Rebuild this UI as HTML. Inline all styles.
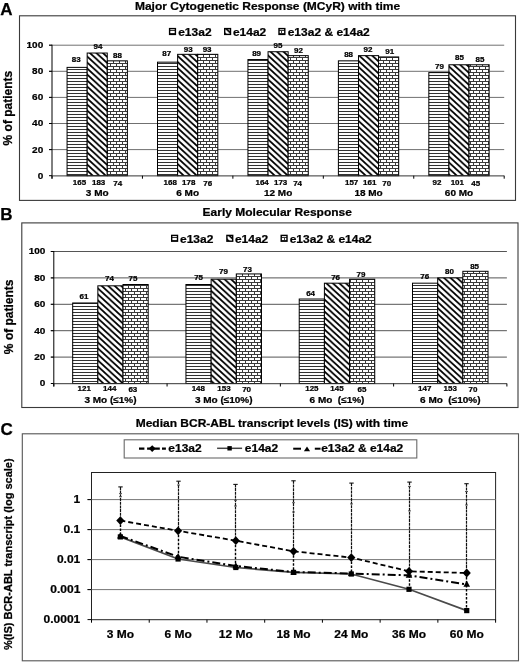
<!DOCTYPE html>
<html><head><meta charset="utf-8"><style>
html,body{margin:0;padding:0;background:#fff;width:520px;height:663px;overflow:hidden}
svg{display:block;filter:grayscale(1)}
text{font-family:"Liberation Sans",sans-serif;font-weight:bold;stroke:#000;stroke-width:0.25px}
</style></head><body>
<svg width="520" height="663" viewBox="0 0 520 663" font-family="Liberation Sans" font-weight="bold" fill="#000">
<defs>
<pattern id="ph" patternUnits="userSpaceOnUse" width="6" height="3">
  <rect width="6" height="3" fill="#fff"/><rect y="0" width="6" height="1" fill="#333"/>
</pattern>
<pattern id="pd" patternUnits="userSpaceOnUse" width="6.5" height="6">
  <rect width="6.5" height="6" fill="#fff"/>
  <path d="M-1.625,-1.5 L8.125,7.5 M-8.125,-1.5 L1.625,7.5 M4.875,-1.5 L14.625,7.5" stroke="#000" stroke-width="1.7"/>
</pattern>
<pattern id="pb" patternUnits="userSpaceOnUse" width="6" height="6">
  <rect width="6" height="6" fill="#3a3a3a"/>
  <rect x="0" y="1" width="5" height="2" fill="#fff"/>
  <rect x="-3" y="4" width="5" height="2" fill="#fff"/>
  <rect x="3" y="4" width="5" height="2" fill="#fff"/>
</pattern>
</defs>
<rect width="520" height="663" fill="#fff"/>
<text transform="translate(0.30,14.60) scale(1,1)" font-size="17" text-anchor="start" >A</text>
<text transform="translate(134.90,9.90) scale(1,0.91)" font-size="12" text-anchor="start" >Major Cytogenetic Response (MCyR) with time</text>
<rect x="19.5" y="15.8" width="496" height="184.6" fill="none" stroke="#3a3a3a" stroke-width="1.1"/>
<rect x="169.6" y="28.6" width="5.8" height="5.8" fill="url(#ph)" stroke="#000" stroke-width="1.4"/>
<text transform="translate(178.20,35.90) scale(1,0.91)" font-size="12" text-anchor="start" >e13a2</text>
<rect x="224.7" y="28.6" width="5.8" height="5.8" fill="url(#pd)" stroke="#000" stroke-width="1.4"/>
<text transform="translate(232.90,35.90) scale(1,0.91)" font-size="12" text-anchor="start" >e14a2</text>
<rect x="279.0" y="28.6" width="5.8" height="5.8" fill="url(#pb)" stroke="#000" stroke-width="1.4"/>
<text transform="translate(287.70,35.90) scale(1,0.91)" font-size="12" text-anchor="start" >e13a2 &amp; e14a2</text>
<line x1="49.0" y1="149.60" x2="504.2" y2="149.60" stroke="#707070" stroke-width="1"/>
<line x1="49.0" y1="123.50" x2="504.2" y2="123.50" stroke="#707070" stroke-width="1"/>
<line x1="49.0" y1="97.40" x2="504.2" y2="97.40" stroke="#707070" stroke-width="1"/>
<line x1="49.0" y1="71.30" x2="504.2" y2="71.30" stroke="#707070" stroke-width="1"/>
<line x1="49.0" y1="45.20" x2="504.2" y2="45.20" stroke="#707070" stroke-width="1"/>
<line x1="49.0" y1="175.70" x2="52.0" y2="175.70" stroke="#000" stroke-width="1"/>
<text transform="translate(43.20,178.65) scale(1,0.91)" font-size="10" text-anchor="end" >0</text>
<line x1="49.0" y1="149.60" x2="52.0" y2="149.60" stroke="#000" stroke-width="1"/>
<text transform="translate(43.20,152.55) scale(1,0.91)" font-size="10" text-anchor="end" >20</text>
<line x1="49.0" y1="123.50" x2="52.0" y2="123.50" stroke="#000" stroke-width="1"/>
<text transform="translate(43.20,126.45) scale(1,0.91)" font-size="10" text-anchor="end" >40</text>
<line x1="49.0" y1="97.40" x2="52.0" y2="97.40" stroke="#000" stroke-width="1"/>
<text transform="translate(43.20,100.35) scale(1,0.91)" font-size="10" text-anchor="end" >60</text>
<line x1="49.0" y1="71.30" x2="52.0" y2="71.30" stroke="#000" stroke-width="1"/>
<text transform="translate(43.20,74.25) scale(1,0.91)" font-size="10" text-anchor="end" >80</text>
<line x1="49.0" y1="45.20" x2="52.0" y2="45.20" stroke="#000" stroke-width="1"/>
<text transform="translate(43.20,48.15) scale(1,0.91)" font-size="10" text-anchor="end" >100</text>
<rect x="67.07" y="67.38" width="20.10" height="108.31" fill="url(#ph)" stroke="#000" stroke-width="1"/>
<text transform="translate(76.20,62.00) scale(1,0.91)" font-size="8" text-anchor="middle" >83</text>
<text transform="translate(79.52,184.60) scale(1,0.91)" font-size="8" text-anchor="middle" >165</text>
<rect x="87.17" y="53.03" width="20.10" height="122.67" fill="url(#pd)" stroke="#000" stroke-width="1"/>
<text transform="translate(98.00,48.70) scale(1,0.91)" font-size="8" text-anchor="middle" >94</text>
<text transform="translate(98.62,184.60) scale(1,0.91)" font-size="8" text-anchor="middle" >183</text>
<rect x="107.27" y="60.86" width="20.10" height="114.84" fill="url(#pb)" stroke="#000" stroke-width="1"/>
<text transform="translate(117.50,58.30) scale(1,0.91)" font-size="8" text-anchor="middle" >88</text>
<text transform="translate(117.62,185.60) scale(1,0.91)" font-size="8" text-anchor="middle" >74</text>
<text transform="translate(97.22,195.60) scale(1,0.91)" font-size="10" text-anchor="middle" >3 Mo</text>
<rect x="157.51" y="62.16" width="20.10" height="113.53" fill="url(#ph)" stroke="#000" stroke-width="1"/>
<text transform="translate(166.70,56.40) scale(1,0.91)" font-size="8" text-anchor="middle" >87</text>
<text transform="translate(170.16,184.60) scale(1,0.91)" font-size="8" text-anchor="middle" >168</text>
<rect x="177.61" y="54.33" width="20.10" height="121.36" fill="url(#pd)" stroke="#000" stroke-width="1"/>
<text transform="translate(188.30,51.60) scale(1,0.91)" font-size="8" text-anchor="middle" >93</text>
<text transform="translate(188.66,184.60) scale(1,0.91)" font-size="8" text-anchor="middle" >178</text>
<rect x="197.71" y="54.33" width="20.10" height="121.36" fill="url(#pb)" stroke="#000" stroke-width="1"/>
<text transform="translate(207.10,51.60) scale(1,0.91)" font-size="8" text-anchor="middle" >93</text>
<text transform="translate(207.76,185.60) scale(1,0.91)" font-size="8" text-anchor="middle" >76</text>
<text transform="translate(187.66,195.60) scale(1,0.91)" font-size="10" text-anchor="middle" >6 Mo</text>
<rect x="247.95" y="59.55" width="20.10" height="116.14" fill="url(#ph)" stroke="#000" stroke-width="1"/>
<text transform="translate(256.60,56.40) scale(1,0.91)" font-size="8" text-anchor="middle" >89</text>
<text transform="translate(262.10,184.60) scale(1,0.91)" font-size="8" text-anchor="middle" >164</text>
<rect x="268.05" y="51.72" width="20.10" height="123.97" fill="url(#pd)" stroke="#000" stroke-width="1"/>
<text transform="translate(278.00,48.30) scale(1,0.91)" font-size="8" text-anchor="middle" >95</text>
<text transform="translate(280.60,184.60) scale(1,0.91)" font-size="8" text-anchor="middle" >173</text>
<rect x="288.15" y="55.64" width="20.10" height="120.06" fill="url(#pb)" stroke="#000" stroke-width="1"/>
<text transform="translate(298.50,53.00) scale(1,0.91)" font-size="8" text-anchor="middle" >92</text>
<text transform="translate(297.60,185.60) scale(1,0.91)" font-size="8" text-anchor="middle" >74</text>
<text transform="translate(278.10,195.60) scale(1,0.91)" font-size="10" text-anchor="middle" >12 Mo</text>
<rect x="338.39" y="60.86" width="20.10" height="114.84" fill="url(#ph)" stroke="#000" stroke-width="1"/>
<text transform="translate(348.60,57.30) scale(1,0.91)" font-size="8" text-anchor="middle" >88</text>
<text transform="translate(351.64,184.60) scale(1,0.91)" font-size="8" text-anchor="middle" >157</text>
<rect x="358.49" y="55.64" width="20.10" height="120.06" fill="url(#pd)" stroke="#000" stroke-width="1"/>
<text transform="translate(368.00,51.60) scale(1,0.91)" font-size="8" text-anchor="middle" >92</text>
<text transform="translate(369.74,184.60) scale(1,0.91)" font-size="8" text-anchor="middle" >161</text>
<rect x="378.59" y="56.94" width="20.10" height="118.75" fill="url(#pb)" stroke="#000" stroke-width="1"/>
<text transform="translate(389.70,53.50) scale(1,0.91)" font-size="8" text-anchor="middle" >91</text>
<text transform="translate(386.64,185.60) scale(1,0.91)" font-size="8" text-anchor="middle" >70</text>
<text transform="translate(368.54,195.60) scale(1,0.91)" font-size="10" text-anchor="middle" >18 Mo</text>
<rect x="428.83" y="72.60" width="20.10" height="103.09" fill="url(#ph)" stroke="#000" stroke-width="1"/>
<text transform="translate(439.40,68.55) scale(1,0.91)" font-size="8" text-anchor="middle" >79</text>
<text transform="translate(436.98,184.60) scale(1,0.91)" font-size="8" text-anchor="middle" >92</text>
<rect x="448.93" y="64.77" width="20.10" height="110.92" fill="url(#pd)" stroke="#000" stroke-width="1"/>
<text transform="translate(459.40,60.30) scale(1,0.91)" font-size="8" text-anchor="middle" >85</text>
<text transform="translate(457.28,184.60) scale(1,0.91)" font-size="8" text-anchor="middle" >101</text>
<rect x="469.03" y="64.77" width="20.10" height="110.92" fill="url(#pb)" stroke="#000" stroke-width="1"/>
<text transform="translate(479.90,62.30) scale(1,0.91)" font-size="8" text-anchor="middle" >85</text>
<text transform="translate(475.78,185.60) scale(1,0.91)" font-size="8" text-anchor="middle" >45</text>
<text transform="translate(458.98,195.60) scale(1,0.91)" font-size="10" text-anchor="middle" >60 Mo</text>
<line x1="52.0" y1="44.70" x2="52.0" y2="178.70" stroke="#000" stroke-width="1"/>
<line x1="52.0" y1="175.90" x2="504.2" y2="175.90" stroke="#333" stroke-width="1"/>
<line x1="52.00" y1="175.70" x2="52.00" y2="178.70" stroke="#000" stroke-width="1"/>
<line x1="142.44" y1="175.70" x2="142.44" y2="178.70" stroke="#000" stroke-width="1"/>
<line x1="232.88" y1="175.70" x2="232.88" y2="178.70" stroke="#000" stroke-width="1"/>
<line x1="323.32" y1="175.70" x2="323.32" y2="178.70" stroke="#000" stroke-width="1"/>
<line x1="413.76" y1="175.70" x2="413.76" y2="178.70" stroke="#000" stroke-width="1"/>
<line x1="504.20" y1="175.70" x2="504.20" y2="178.70" stroke="#000" stroke-width="1"/>
<text transform="translate(11.8,108.1) rotate(-90)" font-size="12" text-anchor="middle">% of patients</text>
<text transform="translate(0.30,219.70) scale(1,1)" font-size="17" text-anchor="start" >B</text>
<text transform="translate(202.60,215.70) scale(1,0.91)" font-size="12" text-anchor="start" >Early Molecular Response</text>
<rect x="21.8" y="222.9" width="496.2" height="184.6" fill="none" stroke="#3a3a3a" stroke-width="1.1"/>
<rect x="171.7" y="235.4" width="5.8" height="5.8" fill="url(#ph)" stroke="#000" stroke-width="1.4"/>
<text transform="translate(180.00,242.60) scale(1,0.91)" font-size="12" text-anchor="start" >e13a2</text>
<rect x="226.9" y="235.4" width="5.8" height="5.8" fill="url(#pd)" stroke="#000" stroke-width="1.4"/>
<text transform="translate(234.90,242.60) scale(1,0.91)" font-size="12" text-anchor="start" >e14a2</text>
<rect x="281.2" y="235.4" width="5.8" height="5.8" fill="url(#pb)" stroke="#000" stroke-width="1.4"/>
<text transform="translate(289.70,242.60) scale(1,0.91)" font-size="12" text-anchor="start" >e13a2 &amp; e14a2</text>
<line x1="50.8" y1="357.10" x2="506.9" y2="357.10" stroke="#555" stroke-width="1"/>
<line x1="50.8" y1="330.70" x2="506.9" y2="330.70" stroke="#555" stroke-width="1"/>
<line x1="50.8" y1="304.30" x2="506.9" y2="304.30" stroke="#555" stroke-width="1"/>
<line x1="50.8" y1="277.90" x2="506.9" y2="277.90" stroke="#555" stroke-width="1"/>
<line x1="50.8" y1="251.50" x2="506.9" y2="251.50" stroke="#555" stroke-width="1"/>
<line x1="50.8" y1="383.50" x2="53.8" y2="383.50" stroke="#000" stroke-width="1"/>
<text transform="translate(45.30,386.45) scale(1,0.91)" font-size="10" text-anchor="end" >0</text>
<line x1="50.8" y1="357.10" x2="53.8" y2="357.10" stroke="#000" stroke-width="1"/>
<text transform="translate(45.30,360.05) scale(1,0.91)" font-size="10" text-anchor="end" >20</text>
<line x1="50.8" y1="330.70" x2="53.8" y2="330.70" stroke="#000" stroke-width="1"/>
<text transform="translate(45.30,333.65) scale(1,0.91)" font-size="10" text-anchor="end" >40</text>
<line x1="50.8" y1="304.30" x2="53.8" y2="304.30" stroke="#000" stroke-width="1"/>
<text transform="translate(45.30,307.25) scale(1,0.91)" font-size="10" text-anchor="end" >60</text>
<line x1="50.8" y1="277.90" x2="53.8" y2="277.90" stroke="#000" stroke-width="1"/>
<text transform="translate(45.30,280.85) scale(1,0.91)" font-size="10" text-anchor="end" >80</text>
<line x1="50.8" y1="251.50" x2="53.8" y2="251.50" stroke="#000" stroke-width="1"/>
<text transform="translate(45.30,254.45) scale(1,0.91)" font-size="10" text-anchor="end" >100</text>
<rect x="72.68" y="302.98" width="25.17" height="80.52" fill="url(#ph)" stroke="#000" stroke-width="1"/>
<text transform="translate(84.00,299.20) scale(1,0.91)" font-size="8" text-anchor="middle" >61</text>
<text transform="translate(84.24,390.60) scale(1,0.91)" font-size="8" text-anchor="middle" >121</text>
<rect x="97.85" y="285.82" width="25.17" height="97.68" fill="url(#pd)" stroke="#000" stroke-width="1"/>
<text transform="translate(109.50,280.90) scale(1,0.91)" font-size="8" text-anchor="middle" >74</text>
<text transform="translate(109.74,390.60) scale(1,0.91)" font-size="8" text-anchor="middle" >144</text>
<rect x="123.02" y="284.50" width="25.17" height="99.00" fill="url(#pb)" stroke="#000" stroke-width="1"/>
<text transform="translate(132.90,280.90) scale(1,0.91)" font-size="8" text-anchor="middle" >75</text>
<text transform="translate(132.84,391.60) scale(1,0.91)" font-size="8" text-anchor="middle" >63</text>
<text transform="translate(110.44,403.40) scale(1,0.91)" font-size="10" text-anchor="middle" >3 Mo (≤1%)</text>
<rect x="185.95" y="284.50" width="25.17" height="99.00" fill="url(#ph)" stroke="#000" stroke-width="1"/>
<text transform="translate(198.60,279.50) scale(1,0.91)" font-size="8" text-anchor="middle" >75</text>
<text transform="translate(198.31,390.60) scale(1,0.91)" font-size="8" text-anchor="middle" >148</text>
<rect x="211.13" y="279.22" width="25.17" height="104.28" fill="url(#pd)" stroke="#000" stroke-width="1"/>
<text transform="translate(223.50,274.00) scale(1,0.91)" font-size="8" text-anchor="middle" >79</text>
<text transform="translate(223.91,390.60) scale(1,0.91)" font-size="8" text-anchor="middle" >153</text>
<rect x="236.30" y="273.94" width="25.17" height="109.56" fill="url(#pb)" stroke="#000" stroke-width="1"/>
<text transform="translate(247.50,272.10) scale(1,0.91)" font-size="8" text-anchor="middle" >73</text>
<text transform="translate(246.61,391.60) scale(1,0.91)" font-size="8" text-anchor="middle" >70</text>
<text transform="translate(223.71,403.40) scale(1,0.91)" font-size="10" text-anchor="middle" >3 Mo (≤10%)</text>
<rect x="299.23" y="299.02" width="25.17" height="84.48" fill="url(#ph)" stroke="#000" stroke-width="1"/>
<text transform="translate(310.60,296.05) scale(1,0.91)" font-size="8" text-anchor="middle" >64</text>
<text transform="translate(311.89,390.60) scale(1,0.91)" font-size="8" text-anchor="middle" >125</text>
<rect x="324.40" y="283.18" width="25.17" height="100.32" fill="url(#pd)" stroke="#000" stroke-width="1"/>
<text transform="translate(335.60,280.30) scale(1,0.91)" font-size="8" text-anchor="middle" >76</text>
<text transform="translate(336.99,390.60) scale(1,0.91)" font-size="8" text-anchor="middle" >145</text>
<rect x="349.57" y="279.22" width="25.17" height="104.28" fill="url(#pb)" stroke="#000" stroke-width="1"/>
<text transform="translate(361.00,277.30) scale(1,0.91)" font-size="8" text-anchor="middle" >79</text>
<text transform="translate(361.89,391.60) scale(1,0.91)" font-size="8" text-anchor="middle" >65</text>
<text transform="translate(336.99,403.40) scale(1,0.91)" font-size="10" text-anchor="middle" >6 Mo&#160; (≤1%)</text>
<rect x="412.50" y="283.18" width="25.17" height="100.32" fill="url(#ph)" stroke="#000" stroke-width="1"/>
<text transform="translate(424.80,279.20) scale(1,0.91)" font-size="8" text-anchor="middle" >76</text>
<text transform="translate(424.66,390.60) scale(1,0.91)" font-size="8" text-anchor="middle" >147</text>
<rect x="437.68" y="277.90" width="25.17" height="105.60" fill="url(#pd)" stroke="#000" stroke-width="1"/>
<text transform="translate(449.50,273.60) scale(1,0.91)" font-size="8" text-anchor="middle" >80</text>
<text transform="translate(450.26,390.60) scale(1,0.91)" font-size="8" text-anchor="middle" >153</text>
<rect x="462.85" y="271.30" width="25.17" height="112.20" fill="url(#pb)" stroke="#000" stroke-width="1"/>
<text transform="translate(474.60,268.60) scale(1,0.91)" font-size="8" text-anchor="middle" >85</text>
<text transform="translate(472.96,391.60) scale(1,0.91)" font-size="8" text-anchor="middle" >70</text>
<text transform="translate(450.26,403.40) scale(1,0.91)" font-size="10" text-anchor="middle" >6 Mo&#160; (≤10%)</text>
<line x1="53.8" y1="251.00" x2="53.8" y2="386.50" stroke="#000" stroke-width="1"/>
<line x1="53.8" y1="383.70" x2="506.9" y2="383.70" stroke="#333" stroke-width="1"/>
<line x1="53.80" y1="383.50" x2="53.80" y2="386.50" stroke="#000" stroke-width="1"/>
<line x1="167.07" y1="383.50" x2="167.07" y2="386.50" stroke="#000" stroke-width="1"/>
<line x1="280.35" y1="383.50" x2="280.35" y2="386.50" stroke="#000" stroke-width="1"/>
<line x1="393.62" y1="383.50" x2="393.62" y2="386.50" stroke="#000" stroke-width="1"/>
<line x1="506.90" y1="383.50" x2="506.90" y2="386.50" stroke="#000" stroke-width="1"/>
<text transform="translate(13,316.8) rotate(-90)" font-size="12" text-anchor="middle">% of patients</text>
<text transform="translate(0.60,435.40) scale(1,1)" font-size="17" text-anchor="start" >C</text>
<text transform="translate(135.70,426.90) scale(1,0.91)" font-size="12" text-anchor="start" >Median BCR-ABL transcript levels (IS) with time</text>
<rect x="22.3" y="433.8" width="496.2" height="227" fill="none" stroke="#555" stroke-width="1.1"/>
<rect x="124.2" y="439.8" width="292.6" height="18.2" fill="#fff" stroke="#6a6a6a" stroke-width="1.1"/>
<path d="M139,448.6 H144.4 M147.1,448.6 H159.8 M162,448.6 H165.9" stroke="#000" stroke-width="2.1"/>
<path d="M152.2,445.2 L155.6,448.6 L152.2,452 L148.8,448.6 Z" fill="#000"/>
<text transform="translate(168.30,452.10) scale(1,0.91)" font-size="12" text-anchor="start" >e13a2</text>
<line x1="217.1" y1="448.3" x2="242.1" y2="448.3" stroke="#444" stroke-width="1.5"/>
<rect x="227.4" y="446.1" width="4.4" height="4.4" fill="#000"/>
<text transform="translate(244.80,452.10) scale(1,0.91)" font-size="12" text-anchor="start" >e14a2</text>
<line x1="293.2" y1="448.7" x2="301" y2="448.7" stroke="#000" stroke-width="2"/>
<line x1="314.8" y1="448.7" x2="320.5" y2="448.7" stroke="#000" stroke-width="2"/>
<path d="M307,446.6 L310.1,451.3 L303.9,451.3 Z" fill="#000"/>
<text transform="translate(321.20,452.10) scale(1,0.91)" font-size="12" text-anchor="start" >e13a2 &amp; e14a2</text>
<rect x="91.5" y="472.5" width="404.1" height="147.20000000000005" fill="none" stroke="#222" stroke-width="1"/>
<line x1="87.5" y1="499.6" x2="495.6" y2="499.6" stroke="#777" stroke-width="1"/>
<line x1="87.5" y1="499.6" x2="91.5" y2="499.6" stroke="#000" stroke-width="1"/>
<text transform="translate(80.30,503.20) scale(1,0.91)" font-size="12" text-anchor="end" >1</text>
<line x1="87.5" y1="529.6" x2="495.6" y2="529.6" stroke="#777" stroke-width="1"/>
<line x1="87.5" y1="529.6" x2="91.5" y2="529.6" stroke="#000" stroke-width="1"/>
<text transform="translate(80.30,533.20) scale(1,0.91)" font-size="12" text-anchor="end" >0.1</text>
<line x1="87.5" y1="559.6" x2="495.6" y2="559.6" stroke="#777" stroke-width="1"/>
<line x1="87.5" y1="559.6" x2="91.5" y2="559.6" stroke="#000" stroke-width="1"/>
<text transform="translate(80.30,563.20) scale(1,0.91)" font-size="12" text-anchor="end" >0.01</text>
<line x1="87.5" y1="589.6" x2="495.6" y2="589.6" stroke="#777" stroke-width="1"/>
<line x1="87.5" y1="589.6" x2="91.5" y2="589.6" stroke="#000" stroke-width="1"/>
<text transform="translate(80.30,593.20) scale(1,0.91)" font-size="12" text-anchor="end" >0.001</text>
<line x1="87.5" y1="619.6" x2="91.5" y2="619.6" stroke="#000" stroke-width="1"/>
<text transform="translate(80.30,623.20) scale(1,0.91)" font-size="12" text-anchor="end" >0.0001</text>
<line x1="91.50" y1="619.7" x2="91.50" y2="622.7" stroke="#000" stroke-width="1"/>
<line x1="149.23" y1="619.7" x2="149.23" y2="622.7" stroke="#000" stroke-width="1"/>
<line x1="206.96" y1="619.7" x2="206.96" y2="622.7" stroke="#000" stroke-width="1"/>
<line x1="264.69" y1="619.7" x2="264.69" y2="622.7" stroke="#000" stroke-width="1"/>
<line x1="322.41" y1="619.7" x2="322.41" y2="622.7" stroke="#000" stroke-width="1"/>
<line x1="380.14" y1="619.7" x2="380.14" y2="622.7" stroke="#000" stroke-width="1"/>
<line x1="437.87" y1="619.7" x2="437.87" y2="622.7" stroke="#000" stroke-width="1"/>
<line x1="495.60" y1="619.7" x2="495.60" y2="622.7" stroke="#000" stroke-width="1"/>
<text transform="translate(120.36,637.80) scale(1,0.91)" font-size="12" text-anchor="middle" >3 Mo</text>
<text transform="translate(178.09,637.80) scale(1,0.91)" font-size="12" text-anchor="middle" >6 Mo</text>
<text transform="translate(235.82,637.80) scale(1,0.91)" font-size="12" text-anchor="middle" >12 Mo</text>
<text transform="translate(293.55,637.80) scale(1,0.91)" font-size="12" text-anchor="middle" >18 Mo</text>
<text transform="translate(351.28,637.80) scale(1,0.91)" font-size="12" text-anchor="middle" >24 Mo</text>
<text transform="translate(409.01,637.80) scale(1,0.91)" font-size="12" text-anchor="middle" >36 Mo</text>
<text transform="translate(466.74,637.80) scale(1,0.91)" font-size="12" text-anchor="middle" >60 Mo</text>
<line x1="120.50" y1="486.9" x2="120.50" y2="520.6" stroke="#111" stroke-width="1.2" stroke-dasharray="3,0.7"/>
<line x1="120.50" y1="520.6" x2="120.50" y2="536" stroke="#000" stroke-width="1.4" stroke-dasharray="2.5,1.5"/>
<line x1="118.30" y1="486.9" x2="122.70" y2="486.9" stroke="#111" stroke-width="1.1"/>
<line x1="119.00" y1="493.6" x2="122.00" y2="493.6" stroke="#555" stroke-width="1"/>
<line x1="119.00" y1="496.7" x2="122.00" y2="496.7" stroke="#555" stroke-width="1"/>
<line x1="178.50" y1="481.2" x2="178.50" y2="530.8" stroke="#111" stroke-width="1.2" stroke-dasharray="3,0.7"/>
<line x1="178.50" y1="530.8" x2="178.50" y2="557" stroke="#000" stroke-width="1.4" stroke-dasharray="2.5,1.5"/>
<line x1="176.30" y1="481.2" x2="180.70" y2="481.2" stroke="#111" stroke-width="1.1"/>
<line x1="177.00" y1="485.0" x2="180.00" y2="485.0" stroke="#555" stroke-width="1"/>
<line x1="235.50" y1="484.4" x2="235.50" y2="540.7" stroke="#111" stroke-width="1.2" stroke-dasharray="3,0.7"/>
<line x1="235.50" y1="540.7" x2="235.50" y2="566" stroke="#000" stroke-width="1.4" stroke-dasharray="2.5,1.5"/>
<line x1="233.30" y1="484.4" x2="237.70" y2="484.4" stroke="#111" stroke-width="1.1"/>
<line x1="234.00" y1="500.3" x2="237.00" y2="500.3" stroke="#555" stroke-width="1"/>
<line x1="234.00" y1="506.0" x2="237.00" y2="506.0" stroke="#555" stroke-width="1"/>
<line x1="293.50" y1="480.8" x2="293.50" y2="551.3" stroke="#111" stroke-width="1.2" stroke-dasharray="3,0.7"/>
<line x1="293.50" y1="551.3" x2="293.50" y2="572" stroke="#000" stroke-width="1.4" stroke-dasharray="2.5,1.5"/>
<line x1="291.30" y1="480.8" x2="295.70" y2="480.8" stroke="#111" stroke-width="1.1"/>
<line x1="292.00" y1="502.7" x2="295.00" y2="502.7" stroke="#555" stroke-width="1"/>
<line x1="292.00" y1="512.0" x2="295.00" y2="512.0" stroke="#555" stroke-width="1"/>
<line x1="351.50" y1="483.1" x2="351.50" y2="557.6" stroke="#111" stroke-width="1.2" stroke-dasharray="3,0.7"/>
<line x1="351.50" y1="557.6" x2="351.50" y2="573" stroke="#000" stroke-width="1.4" stroke-dasharray="2.5,1.5"/>
<line x1="349.30" y1="483.1" x2="353.70" y2="483.1" stroke="#111" stroke-width="1.1"/>
<line x1="350.00" y1="503.9" x2="353.00" y2="503.9" stroke="#555" stroke-width="1"/>
<line x1="409.50" y1="482.1" x2="409.50" y2="571.3" stroke="#111" stroke-width="1.2" stroke-dasharray="3,0.7"/>
<line x1="409.50" y1="571.3" x2="409.50" y2="589" stroke="#000" stroke-width="1.4" stroke-dasharray="2.5,1.5"/>
<line x1="407.30" y1="482.1" x2="411.70" y2="482.1" stroke="#111" stroke-width="1.1"/>
<line x1="408.00" y1="486.4" x2="411.00" y2="486.4" stroke="#555" stroke-width="1"/>
<line x1="408.00" y1="510.9" x2="411.00" y2="510.9" stroke="#555" stroke-width="1"/>
<line x1="466.50" y1="483.7" x2="466.50" y2="573.0" stroke="#111" stroke-width="1.2" stroke-dasharray="3,0.7"/>
<line x1="466.50" y1="573.0" x2="466.50" y2="610" stroke="#000" stroke-width="1.4" stroke-dasharray="2.5,1.5"/>
<line x1="464.30" y1="483.7" x2="468.70" y2="483.7" stroke="#111" stroke-width="1.1"/>
<line x1="465.00" y1="491.5" x2="468.00" y2="491.5" stroke="#555" stroke-width="1"/>
<line x1="465.00" y1="505.0" x2="468.00" y2="505.0" stroke="#555" stroke-width="1"/>
<polyline points="120.36,536.90 178.09,559.00 235.82,567.50 293.55,572.40 351.28,574.00 409.01,589.30 466.74,610.60" fill="none" stroke="#4a4a4a" stroke-width="1.7"/>
<polyline points="120.36,536.00 178.09,556.70 235.82,566.00 293.55,572.00 351.28,573.50 409.01,575.30 466.74,584.40" fill="none" stroke="#000" stroke-width="2" stroke-dasharray="8,3,2,3"/>
<polyline points="120.36,520.60 178.09,530.80 235.82,540.70 293.55,551.30 351.28,557.60 409.01,571.30 466.74,573.00" fill="none" stroke="#000" stroke-width="1.8" stroke-dasharray="5,3"/>
<path d="M120.36,516.20 L124.46,520.60 L120.36,525.00 L116.26,520.60 Z" fill="#000"/>
<rect x="117.76" y="534.30" width="5.2" height="5.2" fill="#000"/>
<path d="M120.36,532.20 L123.66,538.40 L117.06,538.40 Z" fill="#000"/>
<path d="M178.09,526.40 L182.19,530.80 L178.09,535.20 L173.99,530.80 Z" fill="#000"/>
<rect x="175.49" y="556.40" width="5.2" height="5.2" fill="#000"/>
<path d="M178.09,552.90 L181.39,559.10 L174.79,559.10 Z" fill="#000"/>
<path d="M235.82,536.30 L239.92,540.70 L235.82,545.10 L231.72,540.70 Z" fill="#000"/>
<rect x="233.22" y="564.90" width="5.2" height="5.2" fill="#000"/>
<path d="M235.82,562.20 L239.12,568.40 L232.52,568.40 Z" fill="#000"/>
<path d="M293.55,546.90 L297.65,551.30 L293.55,555.70 L289.45,551.30 Z" fill="#000"/>
<rect x="290.95" y="569.80" width="5.2" height="5.2" fill="#000"/>
<path d="M293.55,568.20 L296.85,574.40 L290.25,574.40 Z" fill="#000"/>
<path d="M351.28,553.20 L355.38,557.60 L351.28,562.00 L347.18,557.60 Z" fill="#000"/>
<rect x="348.68" y="571.40" width="5.2" height="5.2" fill="#000"/>
<path d="M351.28,569.70 L354.58,575.90 L347.98,575.90 Z" fill="#000"/>
<path d="M409.01,566.90 L413.11,571.30 L409.01,575.70 L404.91,571.30 Z" fill="#000"/>
<rect x="406.41" y="586.70" width="5.2" height="5.2" fill="#000"/>
<path d="M409.01,571.50 L412.31,577.70 L405.71,577.70 Z" fill="#000"/>
<path d="M466.74,568.60 L470.84,573.00 L466.74,577.40 L462.64,573.00 Z" fill="#000"/>
<rect x="464.14" y="608.00" width="5.2" height="5.2" fill="#000"/>
<path d="M466.74,580.60 L470.04,586.80 L463.44,586.80 Z" fill="#000"/>
<text transform="translate(11.6,554.25) rotate(-90)" font-size="11" text-anchor="middle">%(IS) BCR-ABL transcript (log scale)</text>
</svg>
</body></html>
